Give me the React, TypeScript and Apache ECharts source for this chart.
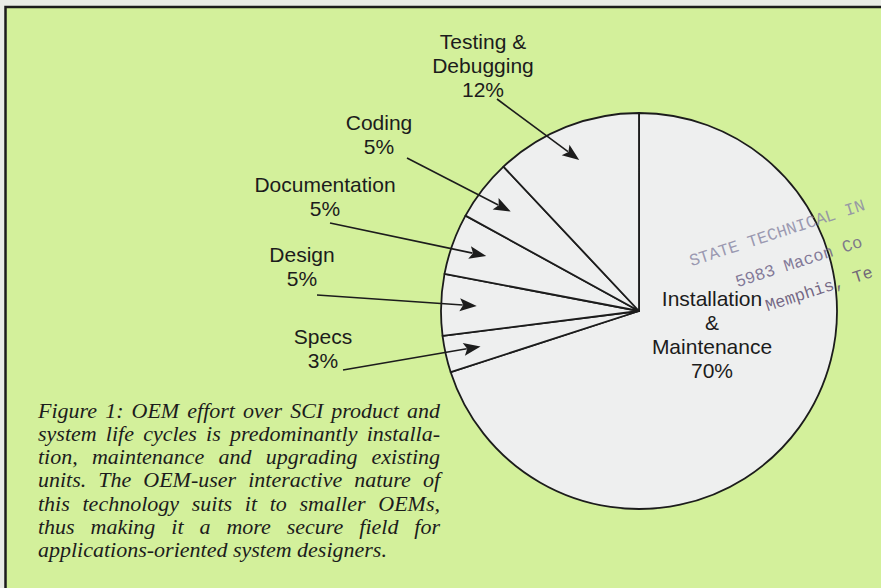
import React, { useEffect, useRef } from "react";
import * as echarts from "echarts";

// ---- data ----
const categories = [
  "Installation & Maintenance",
  "Specs",
  "Design",
  "Documentation",
  "Coding",
  "Testing & Debugging",
];
const labelTexts = [
  "Installation\n&\nMaintenance",
  "Specs",
  "Design",
  "Documentation",
  "Coding",
  "Testing &\nDebugging",
];
const shares = [70, 3, 5, 5, 5, 12];

const captionLines = [
  "Figure 1: OEM effort over SCI product and",
  "system life cycles is predominantly installa-",
  "tion, maintenance and upgrading existing",
  "units. The OEM-user interactive nature of",
  "this technology suits it to smaller OEMs,",
  "thus making it a more secure field for",
  "applications-oriented system designers.",
];

const stampLines = ["STATE TECHNICAL IN", "5983 Macon Co", "Memphis, Te"];

// ---- layout ----
const W = 881;
const H = 588;
const CX = 639;
const CY = 311;
const R = 198;
const labelCenters: number[][] = [
  [712, 334],
  [323, 348],
  [302, 266],
  [325, 196],
  [379, 134],
  [483, 65],
];
const arrowTails: (number[] | null)[] = [
  null,
  [343, 370],
  [317, 295],
  [330, 223],
  [407, 158],
  [497, 99],
];
const stampPos = [
  [690, 262, "#8c8aa6"],
  [736, 283, "#6f6488"],
  [766, 307, "#5f4f72"],
];

const INK = "#1c1c1c";
const GREEN = "#d3f09b";
const PIE_FILL = "#eeefef";

const CAP_FONT_SIZE = 22;
const CAP_FONT = `italic ${CAP_FONT_SIZE}px "Liberation Serif", "Times New Roman", serif`;
const CAP_X0 = 38;
const CAP_X1 = 440;
const CAP_Y0 = 410;
const CAP_STEP = 23.3;

function buildCaption(): any[] {
  const canvas = document.createElement("canvas");
  const ctx = canvas.getContext("2d")!;
  ctx.font = CAP_FONT;
  const out: any[] = [];
  captionLines.forEach((line, li) => {
    const y = CAP_Y0 + li * CAP_STEP;
    const last = li === captionLines.length - 1;
    if (last) {
      out.push({
        type: "text",
        z: 20,
        style: { text: line, x: CAP_X0, y, font: CAP_FONT, fill: INK, align: "left", verticalAlign: "middle" },
      });
      return;
    }
    const words = line.split(" ");
    const widths = words.map((w) => ctx.measureText(w).width);
    const total = widths.reduce((a, b) => a + b, 0);
    const gap = (CAP_X1 - CAP_X0 - total) / (words.length - 1);
    let x = CAP_X0;
    words.forEach((w, i) => {
      out.push({
        type: "text",
        z: 20,
        style: { text: w, x, y, font: CAP_FONT, fill: INK, align: "left", verticalAlign: "middle" },
      });
      x += widths[i] + gap;
    });
  });
  return out;
}

function buildArrows(): any[] {
  const total = shares.reduce((a, b) => a + b, 0);
  const out: any[] = [];
  let cum = 0;
  shares.forEach((v, i) => {
    const a0 = 90 - (360 * cum) / total;
    const a1 = 90 - (360 * (cum + v)) / total;
    cum += v;
    const tail = arrowTails[i];
    if (!tail) return;
    const mid = ((a0 + a1) / 2) * (Math.PI / 180);
    const tx = CX + 0.82 * R * Math.cos(mid);
    const ty = CY - 0.82 * R * Math.sin(mid);
    const dx = tx - tail[0];
    const dy = ty - tail[1];
    const len = Math.hypot(dx, dy);
    const ux = dx / len;
    const uy = dy / len;
    const hl = 17;
    const hw = 6.5;
    const bx = tx - ux * hl;
    const by = ty - uy * hl;
    out.push({
      type: "line",
      z: 10,
      shape: { x1: tail[0], y1: tail[1], x2: bx + ux * 3, y2: by + uy * 3 },
      style: { stroke: INK, lineWidth: 1.6 },
    });
    out.push({
      type: "polygon",
      z: 10,
      shape: {
        points: [
          [tx, ty],
          [bx - uy * hw, by + ux * hw],
          [bx + ux * 3.5, by + uy * 3.5],
          [bx + uy * hw, by - ux * hw],
        ],
      },
      style: { fill: INK },
    });
  });
  return out;
}

function buildStamp(): any[] {
  return stampLines.map((t, i) => ({
    type: "text",
    z: 30,
    x: stampPos[i][0] as number,
    y: stampPos[i][1] as number,
    rotation: (18 * Math.PI) / 180,
    style: {
      text: t,
      x: 0,
      y: 0,
      font: '17px "Liberation Mono", "DejaVu Sans Mono", monospace',
      fill: stampPos[i][2] as string,
      opacity: 0.85,
      align: "left",
      verticalAlign: "middle",
    },
  }));
}

export default function App() {
  const ref = useRef<HTMLDivElement>(null);
  useEffect(() => {
    if (!ref.current) return;
    const chart = echarts.init(ref.current, null, { renderer: "svg" });
    const option: any = {
      animation: false,
      backgroundColor: "#e9ece6",
      graphic: [
        {
          type: "rect",
          z: -10,
          shape: { x: 5.5, y: 7, width: 900, height: 600 },
          style: { fill: GREEN, stroke: INK, lineWidth: 2.5 },
        },
        ...buildCaption(),
        ...buildArrows(),
        ...buildStamp(),
      ],
      series: [
        {
          type: "pie",
          center: [CX, CY],
          radius: R,
          startAngle: 90,
          clockwise: true,
          avoidLabelOverlap: false,
          silent: true,
          itemStyle: { color: PIE_FILL, borderColor: INK, borderWidth: 1.8 },
          label: {
            show: true,
            position: "outside",
            formatter: (p: any) => `${labelTexts[p.dataIndex]}\n${p.value}%`,
            fontFamily: '"Liberation Sans", Arial, sans-serif',
            fontSize: 21,
            lineHeight: 24,
            color: INK,
          },
          labelLine: { show: false },
          labelLayout: (p: any) => ({
            x: labelCenters[p.dataIndex][0],
            y: labelCenters[p.dataIndex][1],
            align: "center",
            verticalAlign: "middle",
          }),
          data: categories.map((name, i) => ({ name, value: shares[i] })),
        },
      ],
    };
    chart.setOption(option);
    return () => chart.dispose();
  }, []);
  return (
    <div
      ref={ref}
      style={{ position: "absolute", left: 0, top: 0, width: W, height: H }}
    />
  );
}
